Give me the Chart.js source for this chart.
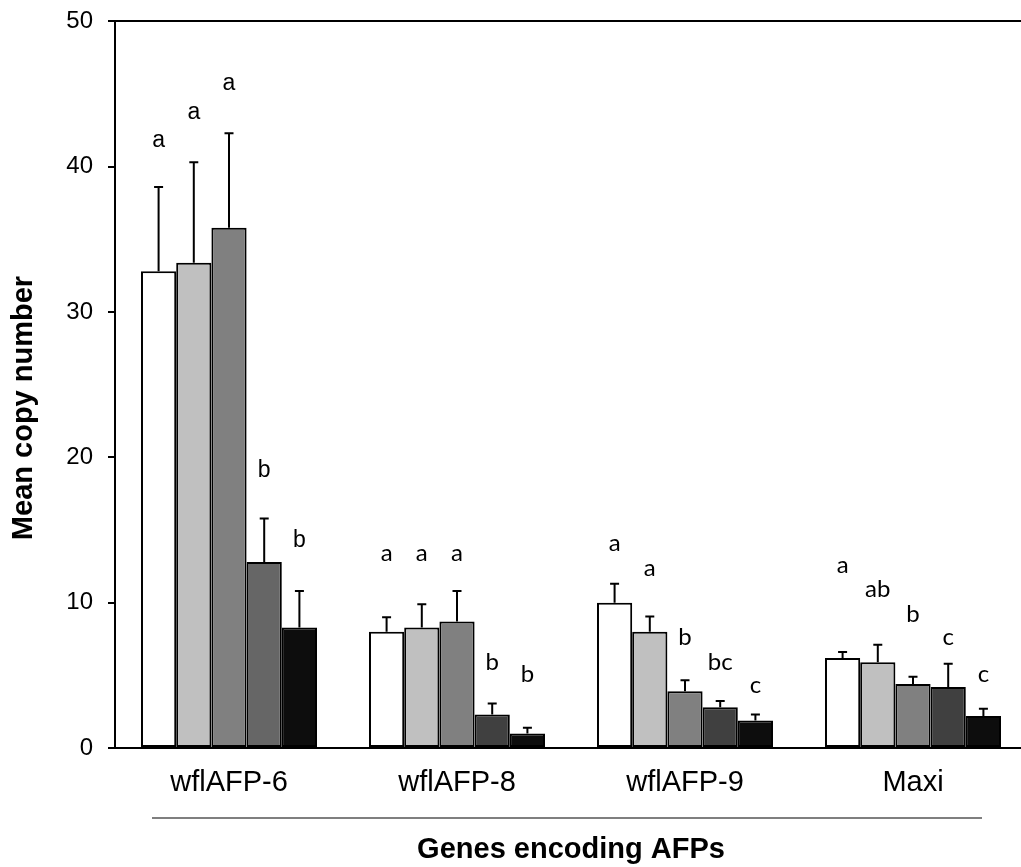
<!DOCTYPE html>
<html>
<head>
<meta charset="utf-8">
<script src="https://cdn.jsdelivr.net/npm/chart.js@4.4.1/dist/chart.umd.min.js"></script>
<style>
  html, body { margin: 0; padding: 0; background: #fff; overflow: hidden; }
  #wrap { position: relative; width: 1021px; height: 867px; overflow: hidden; }
  #c { position: absolute; left: 0; top: -8px; }
</style>
</head>
<body>
<div id="wrap"><canvas id="c" width="1030" height="875"></canvas></div>
<script>
// ---- data ----
const categories = ['wflAFP-6', 'wflAFP-8', 'wflAFP-9', 'Maxi'];
const yTicks = [0, 10, 20, 30, 40, 50];

const series1 = [32.8, 8.0, 10.0, 6.2];
const series2 = [33.4, 8.3, 8.0, 5.9];
const series3 = [35.8, 8.7, 3.9, 4.4];
const series4 = [12.8, 2.3, 2.8, 4.2];
const series5 = [8.3, 1.0, 1.9, 2.2];

const err1 = [5.8, 1.0, 1.3, 0.4];
const err2 = [6.9, 1.6, 1.05, 1.2];
const err3 = [6.5, 2.1, 0.76, 0.5];
const err4 = [3.0, 0.76, 0.43, 1.6];
const err5 = [2.5, 0.39, 0.41, 0.5];

const letters1 = ['a', 'a', 'a', 'a'];
const letters2 = ['a', 'a', 'a', 'ab'];
const letters3 = ['a', 'a', 'b', 'b'];
const letters4 = ['b', 'b', 'bc', 'c'];
const letters5 = ['b', 'b', 'c', 'c'];

const letterY1 = [41.8, 13.4, 14.1, 12.6];
const letterY2 = [43.7, 13.4, 12.4, 10.9];
const letterY3 = [45.7, 13.4, 7.6, 9.2];
const letterY4 = [19.1, 5.9, 5.9, 7.6];
const letterY5 = [14.3, 5.1, 4.3, 5.1];

const xTitle = 'Genes encoding AFPs';
const yTitle = 'Mean copy number';

// ---- build ----
const seriesList = [series1, series2, series3, series4, series5];
const errList = [err1, err2, err3, err4, err5];
const letterList = [letters1, letters2, letters3, letters4, letters5];
const letterYList = [letterY1, letterY2, letterY3, letterY4, letterY5];
const fills = [
  '#ffffff',
  '#c0c0c0',
  '#808080',
  ['#666666', '#404040', '#404040', '#404040'],
  '#0d0d0d'
];

const datasets = seriesList.map((s, i) => ({
  label: 'S' + (i + 1),
  data: s,
  backgroundColor: fills[i],
  borderColor: '#000',
  borderWidth: 2,
  borderSkipped: false,
  categoryPercentage: 0.772,
  barPercentage: 1.0
}));

const extras = {
  id: 'extras',
  afterDatasetsDraw(chart) {
    const ctx = chart.ctx;
    const y = chart.scales.y;
    const a = chart.chartArea;
    ctx.save();
    chart.data.datasets.forEach((ds, i) => {
      const meta = chart.getDatasetMeta(i);
      meta.data.forEach((bar, j) => {
        const v = ds.data[j];
        const top = y.getPixelForValue(v + errList[i][j]);
        const base = y.getPixelForValue(v);
        ctx.strokeStyle = '#000';
        ctx.lineWidth = 2;
        ctx.beginPath();
        ctx.moveTo(bar.x, base);
        ctx.lineTo(bar.x, top);
        ctx.moveTo(bar.x - 4.5, top);
        ctx.lineTo(bar.x + 4.5, top);
        ctx.stroke();
        // letters
        ctx.fillStyle = '#000';
        ctx.textAlign = 'center';
        ctx.textBaseline = 'middle';
        ctx.font = j === 0 ? '23px "Liberation Sans", Arial, sans-serif' : '24px Lato, "Open Sans", sans-serif';
        ctx.fillText(letterList[i][j], bar.x, y.getPixelForValue(letterYList[i][j]));
      });
    });
    // separator line under category labels
    ctx.strokeStyle = '#7f7f7f';
    ctx.lineWidth = 2;
    ctx.beginPath();
    ctx.moveTo(a.left + 37, a.bottom + 70);
    ctx.lineTo(a.left + 867, a.bottom + 70);
    ctx.stroke();
    // y-axis title
    ctx.save();
    ctx.translate(24, a.bottom - 340);
    ctx.rotate(-Math.PI / 2);
    ctx.fillStyle = '#000';
    ctx.textAlign = 'center';
    ctx.textBaseline = 'middle';
    ctx.font = 'bold 29px "Liberation Sans", Arial, sans-serif';
    ctx.fillText(yTitle, 0, 0);
    ctx.restore();
    ctx.restore();
  }
};

new Chart(document.getElementById('c'), {
  type: 'bar',
  data: { labels: categories, datasets },
  options: {
    responsive: false,
    animation: false,
    layout: { autoPadding: false, padding: { top: 12, right: 3, left: 0, bottom: 0 } },
    plugins: { legend: { display: false }, tooltip: { enabled: false } },
    scales: {
      x: {
        grid: { display: false, drawTicks: false },
        border: { color: '#000', width: 2 },
        ticks: {
          color: '#000',
          font: { family: '"Liberation Sans", Arial, sans-serif', size: 29 },
          padding: 18,
          maxRotation: 0
        },
        title: {
          display: true,
          text: xTitle,
          color: '#000',
          font: { family: '"Liberation Sans", Arial, sans-serif', size: 29, weight: 'bold' },
          padding: { top: 0, bottom: 0 }
        },
        afterFit(scale) { scale.height = 119; }
      },
      y: {
        min: 0,
        max: 50,
        afterBuildTicks(scale) { scale.ticks = yTicks.map(v => ({ value: v })); },
        grid: {
          drawOnChartArea: true,
          color: ctx => (ctx.tick && ctx.tick.value === 50 ? '#000' : 'rgba(0,0,0,0)'),
          tickColor: '#000',
          tickLength: 7,
          lineWidth: 2
        },
        border: { color: '#000', width: 2 },
        ticks: {
          color: '#000',
          font: { family: '"Liberation Sans", Arial, sans-serif', size: 24 },
          padding: 15
        },
        title: { display: false },
        afterFit(scale) { scale.width = 115; }
      }
    }
  },
  plugins: [extras]
});
</script>
</body>
</html>
